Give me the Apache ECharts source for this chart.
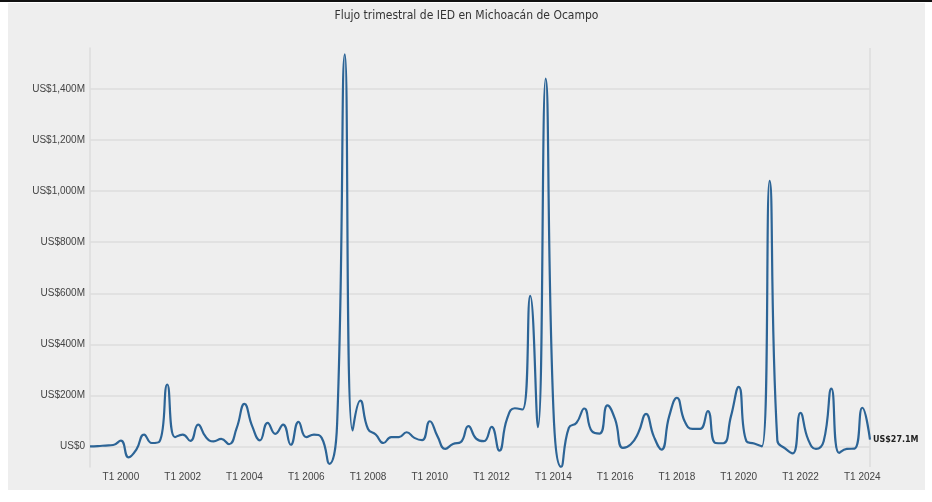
<!DOCTYPE html>
<html>
<head>
<meta charset="utf-8">
<script src="https://cdn.jsdelivr.net/npm/echarts@6/dist/echarts.min.js"></script>
<style>
  html, body { margin: 0; padding: 0; background: #ffffff; }
  #topbar { position: absolute; left: 0; top: 0; width: 932px; height: 2px; background: #111; }
  #chart { position: absolute; left: 8px; top: 3px; width: 917px; height: 487px; background: #eeeeee; }
</style>
</head>
<body>
<div id="topbar"></div>
<div id="chart"></div>
<script>
// flujo trimestral, millones de dolares, T1 1999 .. T2 2024
const first_year = 1999
const quarters_count = 102
const ied_values = [
    1, 2, 4, 6, 23, -42, -12, 47, 14, 20,
    243, 37, 47, 22, 86, 37, 20, 30, 9, 73,
    167, 80, 24, 93, 50, 86, 7, 97, 37, 47,
    34, -68, 90, 1535, 63, 180, 69, 47, 14, 37,
    37, 56, 34, 25, 99, 40, -9, 10, 17, 80,
    31, 21, 77, -16, 108, 150, 145, 590, 76, 1440,
    150, -79, 73, 93, 149, 60, 51, 161, 106, -5,
    8, 54, 128, 40, -12, 119, 191, 99, 69, 69,
    139, 14, 13, 119, 234, 21, 12, 1, 1040, 24,
    -7, -27, 132, 27, -9, 21, 227, -25, -9, -8,
    152, 27.1
]
const y_ticks = [0, 200, 400, 600, 800, 1000, 1200, 1400]

let quarters = []
for (let i = 0; i < quarters_count; i++) {
    quarters.push(`T${(i % 4) + 1} ${first_year + Math.floor(i / 4)}`)
}

let fmt_money = (v) => {
    if (v === 0) return 'US$0'
    return 'US$' + v.toLocaleString('en-US') + 'M'
}

let chart = echarts.init(document.getElementById('chart'))
let option = {
    animation: false,
    backgroundColor: '#eeeeee',
    title: {
        text: 'Flujo trimestral de IED en Michoacán de Ocampo',
        left: 'center',
        top: 2,
        textStyle: {
            fontFamily: "'Liberation Sans Narrow', 'DejaVu Sans Condensed', sans-serif",
            fontSize: 12,
            fontWeight: 'normal',
            color: '#333'
        }
    },
    grid: {
        left: 82,
        right: 55,
        top: 45,
        bottom: 23,
        containLabel: false
    },
    xAxis: {
        type: 'category',
        boundaryGap: false,
        data: quarters,
        axisLine: { show: false },
        axisTick: { show: false },
        splitLine: { show: false },
        axisLabel: {
            interval: (index) => index % 8 === 4,
            margin: 5,
            fontFamily: "'Liberation Sans', Arial, sans-serif",
            fontSize: 10,
            color: '#444'
        }
    },
    yAxis: {
        type: 'value',
        min: -80,
        max: 1560,
        interval: 40,
        axisLine: { show: true, lineStyle: { color: '#dcdcdc', width: 1.5 } },
        axisTick: { show: false },
        splitLine: { show: false },
        axisLabel: {
            margin: 5,
            fontFamily: "'Liberation Sans', Arial, sans-serif",
            fontSize: 10,
            color: '#444',
            formatter: (v) => (v % 200 === 0 && v >= 0 && v <= 1400) ? fmt_money(v) : ''
        }
    },
    series: [
        {
            // solo para las lineas de referencia
            name: 'grid_lines',
            type: 'line',
            data: [],
            silent: true,
            z: 1,
            markLine: {
                silent: true,
                symbol: ['none', 'none'],
                label: { show: false },
                z: 1,
                lineStyle: { color: '#dcdcdc', width: 1.5, type: 'solid' },
                data: [
                    ...y_ticks.map(v => ({ yAxis: v })),
                    { xAxis: quarters[quarters.length - 1] }
                ]
            }
        },
        {
            name: 'IED',
            type: 'line',
            data: ied_values,
            smooth: true,
            showSymbol: false,
            z: 3,
            lineStyle: { color: '#2c6496', width: 2.2 },
            itemStyle: { color: '#2c6496' },
            endLabel: {
                show: true,
                distance: 3,
                formatter: () => 'US$' + ied_values[ied_values.length - 1] + 'M',
                fontFamily: "'DejaVu Sans', sans-serif",
                fontSize: 8,
                fontWeight: 'bold',
                color: '#222'
            }
        }
    ]
}
chart.setOption(option)
</script>
</body>
</html>
